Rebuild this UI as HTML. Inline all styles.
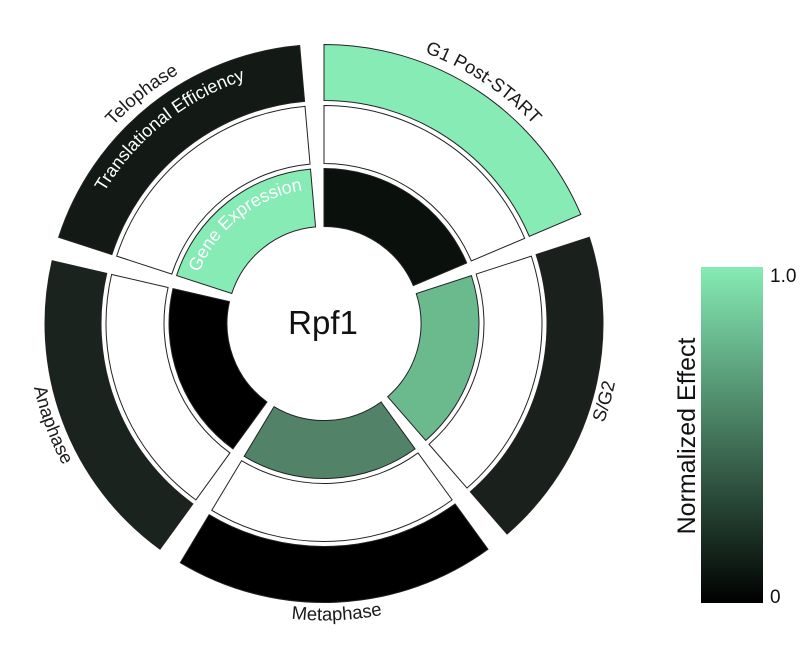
<!DOCTYPE html>
<html>
<head>
<meta charset="utf-8">
<style>
  html, body { margin: 0; padding: 0; background: #ffffff; }
  svg { display: block; }
  text { font-family: "Liberation Sans", Arial, sans-serif; }
</style>
</head>
<body>
<svg width="800" height="650" viewBox="0 0 800 650" xmlns="http://www.w3.org/2000/svg">
  <defs>
    <linearGradient id="cb" x1="0" y1="0" x2="0" y2="1">
      <stop offset="0" stop-color="#86ebb5"/>
      <stop offset="1" stop-color="#000000"/>
    </linearGradient>
    <path id="pG1" d="M324,34.5 A289,289 0 0 1 590.02,210.58"/>
    <path id="pTelo" d="M49.14,234.19 A289,289 0 0 1 298.81,35.60"/>
    <path id="pMeta" d="M171.03,578.08 A297,297 0 0 0 498.57,563.78"/>
    <path id="pSG2" d="M518.85,547.65 A297,297 0 0 0 606.46,231.72"/>
    <path id="pAna" d="M34.61,256.69 A297,297 0 0 0 149.43,563.78"/>
    <path id="pTE" d="M80.53,244.39 A256,256 0 0 1 301.69,68.47"/>
    <path id="pGE" d="M195.61,281.78 A135,135 0 0 1 312.23,189.01"/>
  </defs>

  <g stroke="#222" stroke-width="1">
    <!-- G1 Post-START -->
    <path fill="#86ebb5" d="M324,44.5 A279,279 0 0 1 580.82,214.49 L529.27,236.37 A223,223 0 0 0 324,100.5 Z"/>
    <path fill="#ffffff" d="M324,105.5 A218,218 0 0 1 524.67,238.32 L471.28,260.98 A160,160 0 0 0 324,163.5 Z"/>
    <path fill="#0a110d" d="M324,168.5 A155,155 0 0 1 466.68,262.94 L413.29,285.60 A97,97 0 0 0 324,226.5 Z"/>

    <!-- S/G2 -->
    <path fill="#1a211c" d="M589.35,237.28 A279,279 0 0 1 507.04,534.06 L470.30,491.80 A223,223 0 0 0 536.09,254.59 Z"/>
    <path fill="#ffffff" d="M531.33,256.13 A218,218 0 0 1 467.02,488.03 L428.97,444.25 A160,160 0 0 0 476.17,274.06 Z"/>
    <path fill="#6bba8e" d="M471.41,275.60 A155,155 0 0 1 425.69,440.48 L387.64,396.71 A97,97 0 0 0 416.25,293.53 Z"/>

    <!-- Metaphase -->
    <path fill="#000000" d="M487.99,549.22 A279,279 0 0 1 180.30,562.65 L209.15,514.65 A223,223 0 0 0 455.08,503.91 Z"/>
    <path fill="#ffffff" d="M452.14,499.87 A218,218 0 0 1 211.72,510.36 L241.59,460.65 A160,160 0 0 0 418.05,452.94 Z"/>
    <path fill="#528368" d="M415.11,448.90 A155,155 0 0 1 244.17,456.36 L274.04,406.65 A97,97 0 0 0 381.02,401.97 Z"/>

    <!-- Anaphase -->
    <path fill="#1a231e" d="M160.01,549.22 A279,279 0 0 1 52.15,260.74 L106.72,273.34 A223,223 0 0 0 192.92,503.91 Z"/>
    <path fill="#ffffff" d="M195.86,499.87 A218,218 0 0 1 111.59,274.46 L168.10,287.51 A160,160 0 0 0 229.95,452.94 Z"/>
    <path fill="#000000" d="M232.89,448.90 A155,155 0 0 1 172.97,288.63 L229.49,301.68 A97,97 0 0 0 266.98,401.97 Z"/>

    <!-- Telophase -->
    <path fill="#131a16" d="M58.65,237.28 A279,279 0 0 1 299.68,45.56 L304.56,101.35 A223,223 0 0 0 111.91,254.59 Z"/>
    <path fill="#ffffff" d="M116.67,256.13 A218,218 0 0 1 305.00,106.33 L310.05,164.11 A160,160 0 0 0 171.83,274.06 Z"/>
    <path fill="#86ebb5" d="M176.59,275.60 A155,155 0 0 1 310.49,169.09 L315.55,226.87 A97,97 0 0 0 231.75,293.53 Z"/>
  </g>

  <!-- Phase labels -->
  <g font-size="18.5" fill="#1a1a1a">
    <text><textPath href="#pG1" startOffset="50%" text-anchor="middle">G1 Post-START</textPath></text>
    <text><textPath href="#pTelo" startOffset="50%" text-anchor="middle">Telophase</textPath></text>
    <text><textPath href="#pMeta" startOffset="50%" text-anchor="middle">Metaphase</textPath></text>
    <text><textPath href="#pSG2" startOffset="50%" text-anchor="middle">S/G2</textPath></text>
    <text><textPath href="#pAna" startOffset="50%" text-anchor="middle">Anaphase</textPath></text>
  </g>

  <!-- Ring labels -->
  <g font-size="18" fill="#ffffff">
    <text><textPath href="#pTE" startOffset="50%" text-anchor="middle">Translational Efficiency</textPath></text>
    <text><textPath href="#pGE" startOffset="50%" text-anchor="middle">Gene Expression</textPath></text>
  </g>

  <!-- Center -->
  <text x="323" y="334" font-size="33" text-anchor="middle" fill="#111">Rpf1</text>

  <!-- Colorbar -->
  <rect x="701" y="267" width="62" height="336" fill="url(#cb)"/>
  <text x="770" y="282" font-size="19" fill="#111">1.0</text>
  <text x="770" y="603" font-size="19" fill="#111">0</text>
  <text transform="translate(695,436) rotate(-90)" font-size="25" fill="#111" text-anchor="middle">Normalized Effect</text>
</svg>
</body>
</html>
